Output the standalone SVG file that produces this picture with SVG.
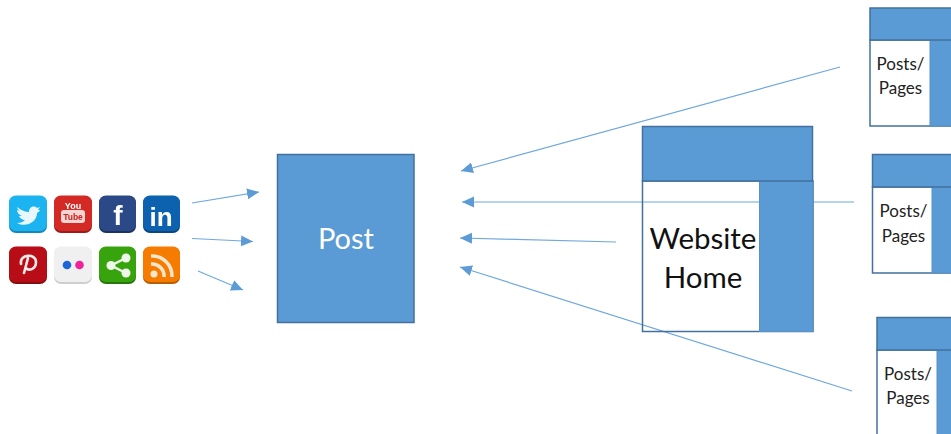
<svg xmlns="http://www.w3.org/2000/svg" width="951" height="434" viewBox="0 0 951 434">
<style>
.b{fill:#5b9bd5;stroke:#41719c;stroke-width:1.500}
.bn{fill:#5b9bd5;stroke:#5b90c4;stroke-width:1}
.w{fill:#fff;stroke:#41719c;stroke-width:1.500}
.c{stroke:#6fa8dc;stroke-width:1.200;fill:none;marker-end:url(#a)}
text{font-family:Lato,"Open Sans","Noto Sans",sans-serif;text-anchor:middle}
.t{font-size:17px;fill:#222}
.h{font-size:29.500px;fill:#111}
.g{font-family:"Liberation Sans",sans-serif;font-weight:700;fill:#fff}
</style>
<defs>
<marker id="a" markerUnits="userSpaceOnUse" markerWidth="13" markerHeight="12" refX="12" refY="6" orient="auto"><path d="M0 0.500L12 6L0 11.500Z" fill="#5b9bd5"/></marker>
<filter id="s" x="-20%" y="-20%" width="140%" height="140%"><feGaussianBlur stdDeviation="0.600"/></filter>
<filter id="x" x="-5%" y="-5%" width="110%" height="110%"><feGaussianBlur stdDeviation="0.350"/></filter>
</defs>
<rect width="951" height="434" fill="#fff"/>
<g id="connectors" filter="url(#x)">
<path class="c" d="M192 203L259 192"/>
<path class="c" d="M192 238.500L253 241.500"/>
<path class="c" d="M198 271L243 290"/>
<path class="c" d="M840 67L461 171"/>
<path class="c" d="M854 202L462 202"/>
<path class="c" d="M616 242L460 238"/>
<path class="c" d="M852 391L460 267"/>
</g>
<g id="social-icons" filter="url(#s)">
<g id="twitter"><rect x="9" y="196" width="38" height="37" rx="7" fill="#1488b8"/><rect x="9" y="195.500" width="38" height="35.500" rx="7" fill="#1db4f0"/><path d="M17 207c5 4 9 5 12 5c0-5 5-7 8-4l3-1l-2 3l2 0c-1 2-2 2-3 3c0 9-11 15-20 10c4 0 6-1 8-3c-3 0-5-2-6-4l3 0c-3-1-5-4-5-6l3 1c-3-2-3-4-3-4z" fill="#e8f7fd"/></g>
<g id="youtube"><rect x="54" y="196" width="38" height="37" rx="7" fill="#9c1d1a"/><rect x="54" y="195.500" width="38" height="35.500" rx="7" fill="#d32a26"/><text class="g" x="73" y="209" font-size="9">You</text><rect x="61" y="210" width="24" height="13" rx="3" fill="#f3d5d3"/><text x="73" y="220" font-size="8.500" font-weight="700" fill="#c8231f" style="font-family:'Liberation Sans',sans-serif">Tube</text></g>
<g id="facebook"><rect x="99" y="196" width="37" height="37" rx="7" fill="#1c3260"/><rect x="99" y="195.500" width="37" height="35.500" rx="7" fill="#2b4a86"/><text class="g" x="118" y="225" font-size="28">f</text></g>
<g id="linkedin"><rect x="143" y="196" width="37" height="37" rx="7" fill="#07457e"/><rect x="143" y="195.500" width="37" height="35.500" rx="7" fill="#0b62b0"/><text class="g" x="161" y="226" font-size="26">in</text></g>
<g id="pinterest"><rect x="9" y="247" width="38" height="37" rx="7" fill="#860a0d"/><rect x="9" y="246.500" width="38" height="35.500" rx="7" fill="#b80d12"/><path d="M24 273l4-15M21 264c-2-10 15-11 15-2c0 8-8 9-10 6" fill="none" stroke="#fbeaea" stroke-width="2.600" stroke-linecap="round"/></g>
<g id="flickr"><rect x="54" y="247" width="38" height="37" rx="7" fill="#cfcfcf"/><rect x="54" y="246.500" width="38" height="35.500" rx="7" fill="#f0f0f0"/><circle cx="67" cy="265" r="4.300" fill="#1e66d8"/><circle cx="79.500" cy="265" r="4.300" fill="#f0219a"/></g>
<g id="share"><rect x="99" y="247" width="37" height="37" rx="7" fill="#27750b"/><rect x="99" y="246.500" width="37" height="35.500" rx="7" fill="#38a410"/><path d="M126 258L111 265.500L126 273" fill="none" stroke="#eef8e8" stroke-width="2.500"/><circle cx="126" cy="258" r="4.500" fill="#eef8e8"/><circle cx="111" cy="265.500" r="4.500" fill="#eef8e8"/><circle cx="126" cy="273" r="4.500" fill="#eef8e8"/></g>
<g id="rss"><rect x="143" y="247" width="37" height="37" rx="7" fill="#b85d00"/><rect x="143" y="246.500" width="37" height="35.500" rx="7" fill="#f57c00"/><circle cx="154" cy="274" r="3.500" fill="#fde6cc"/><path d="M151 264a12 12 0 0 1 13 13M151 256a20 20 0 0 1 21 21" fill="none" stroke="#fde6cc" stroke-width="3.500"/></g>
</g>
<g id="post"><rect class="b" x="277.500" y="154.500" width="136.500" height="168"/><text x="346" y="249" font-size="29" fill="#fff">Post</text></g>
<g id="website-home">
<rect x="642.500" y="181" width="170.500" height="150.500" fill="none" stroke="#41719c" stroke-width="1.500"/>
<rect class="bn" x="759.500" y="181" width="53.500" height="150.500"/>
<rect class="b" x="642.500" y="126.500" width="170" height="54.500"/>
<text class="h" x="703" y="249">Website</text>
<text class="h" x="703" y="288">Home</text>
</g>
<g id="page-top">
<rect class="w" x="870" y="40" width="90" height="86"/>
<rect class="bn" x="930" y="40" width="30" height="86"/>
<rect class="b" x="870" y="8" width="90" height="32"/>
<text class="t" x="900.500" y="69.500">Posts/</text><text class="t" x="900.500" y="94">Pages</text>
</g>
<g id="page-middle">
<rect class="w" x="872.500" y="187" width="90" height="86"/>
<rect class="bn" x="932" y="187" width="30" height="86"/>
<rect class="b" x="872.500" y="154.500" width="90" height="32.500"/>
<text class="t" x="903.500" y="217">Posts/</text><text class="t" x="903.500" y="241.500">Pages</text>
</g>
<g id="page-bottom">
<rect class="w" x="877" y="350" width="90" height="100"/>
<rect class="bn" x="937" y="350" width="30" height="100"/>
<rect class="b" x="877" y="317.500" width="90" height="32.500"/>
<text class="t" x="908" y="380">Posts/</text><text class="t" x="908" y="404">Pages</text>
</g>
</svg>
